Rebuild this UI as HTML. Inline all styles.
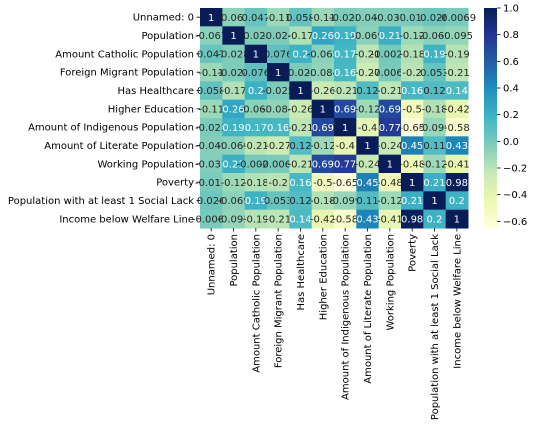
<!DOCTYPE html>
<html><head><meta charset="utf-8"><style>
body{margin:0;background:#fff;}
svg{display:block;font-family:"DejaVu Sans","Liberation Sans",sans-serif;}
</style></head><body>
<svg id="chart" width="533" height="428" viewBox="0 0 533 428"></svg>
<script>
const labels=["Unnamed: 0","Population","Amount Catholic Population","Foreign Migrant Population","Has Healthcare","Higher Education","Amount of Indigenous Population","Amount of Literate Population","Working Population","Poverty","Population with at least 1 Social Lack","Income below Welfare Line"];
const matrix=[
[1,-0.067,0.047,-0.11,0.058,-0.11,-0.022,-0.049,-0.037,-0.013,0.026,-0.0069],
[-0.067,1,-0.028,-0.024,-0.17,0.26,0.19,-0.069,0.21,-0.12,-0.069,-0.095],
[0.047,-0.028,1,0.076,0.2,-0.065,0.17,-0.21,-0.0028,-0.18,0.19,-0.19],
[-0.11,-0.024,0.076,1,-0.025,-0.084,0.16,-0.27,-0.0066,-0.2,0.053,-0.21],
[0.058,-0.17,0.2,-0.025,1,-0.26,-0.21,0.12,-0.21,0.16,0.12,0.14],
[-0.11,0.26,-0.065,-0.084,-0.26,1,0.69,-0.12,0.69,-0.5,-0.18,-0.42],
[-0.022,0.19,0.17,0.16,-0.21,0.69,1,-0.4,0.77,-0.65,-0.099,-0.58],
[-0.049,-0.069,-0.21,-0.27,0.12,-0.12,-0.4,1,-0.24,0.45,0.11,0.43],
[-0.037,0.21,-0.0028,-0.0066,-0.21,0.69,0.77,-0.24,1,-0.48,-0.12,-0.41],
[-0.013,-0.12,-0.18,-0.2,0.16,-0.5,-0.65,0.45,-0.48,1,0.21,0.98],
[0.026,-0.069,0.19,0.053,0.12,-0.18,-0.099,0.11,-0.12,0.21,1,0.2],
[-0.0069,-0.095,-0.19,-0.21,0.14,-0.42,-0.58,0.43,-0.41,0.98,0.2,1]];
const cbTicks=[-0.6,-0.4,-0.2,0.0,0.2,0.4,0.6,0.8,1.0];
const vmin=-0.65, vmax=1;
const stops=["#ffffd9","#edf8b1","#c7e9b4","#7fcdbb","#41b6c4","#1d91c0","#225ea8","#253494","#081d58"];
const NS="http://www.w3.org/2000/svg";
const svg=document.getElementById('chart');
const X0=200,Y0=8,W=268,H=220,n=labels.length,cw=W/n,ch=H/n;
function hex(h){return [1,3,5].map(i=>parseInt(h.substr(i,2),16));}
function cmap(v){let t=Math.max(0,Math.min(1,(v-vmin)/(vmax-vmin)))*(stops.length-1);let i=Math.min(Math.floor(t),stops.length-2),f=t-i;const a=hex(stops[i]),b=hex(stops[i+1]);return a.map((c,k)=>Math.round(c+(b[k]-c)*f));}
function lum(c){const l=c.map(x=>{x/=255;return x<=0.03928?x/12.92:Math.pow((x+0.055)/1.055,2.4);});return 0.2126*l[0]+0.7152*l[1]+0.0722*l[2];}
function mk(tag,attrs,txt){const e=document.createElementNS(NS,tag);for(const k in attrs)e.setAttribute(k,attrs[k]);if(txt!==undefined)e.textContent=txt;svg.appendChild(e);return e;}
function fmt(v){let s=(Math.abs(v)<1e-12)?"0":String(+v.toPrecision(2));return s;}
const xs=i=>X0+i*cw, ys=j=>Y0+j*ch;
for(let r=0;r<n;r++)for(let c=0;c<n;c++){
 const v=matrix[r][c],col=cmap(v);
 const rect=mk('rect',{x:xs(c),y:ys(r),width:cw+0.5,height:ch+0.5,fill:`rgb(${col})`});
 
 
 const t=mk('text',{x:xs(c)+cw/2,y:ys(r)+ch/2+3.6,'text-anchor':'middle','font-size':'10',fill:lum(col)>0.408?'#262626':'#ffffff'},fmt(v));
 
 
}
for(let i=0;i<n;i++){
 mk('line',{x1:X0-3.5,x2:X0,y1:ys(i)+ch/2,y2:ys(i)+ch/2,stroke:'#000','stroke-width':0.8});
 const ly=mk('text',{x:X0-6,y:ys(i)+ch/2+3.5,'text-anchor':'end','font-size':'10',fill:'#000'},labels[i]);
 
 
 const cx=xs(i)+cw/2;
 mk('line',{x1:cx,x2:cx,y1:Y0+H,y2:Y0+H+3.5,stroke:'#000','stroke-width':0.8});
 const lx=mk('text',{x:0,y:0,'text-anchor':'end','font-size':'10',fill:'#000',transform:`translate(${cx+3.5},${Y0+H+6}) rotate(-90)`},labels[i]);
 
 
}
// colorbar
const CX=484,CW=13,CY0=8,CH=220;
const cy=v=>CY0+(vmax-v)/(vmax-vmin)*CH;
const steps=110;
for(let k=0;k<steps;k++){const v1=vmax-(vmax-vmin)*k/steps,v2=vmax-(vmax-vmin)*(k+1)/steps;const col=cmap((v1+v2)/2);
 const s=mk('rect',{x:CX,y:cy(v1),width:CW,height:cy(v2)-cy(v1)+0.6,fill:`rgb(${col})`});
 
 }
cbTicks.forEach(v=>{const y=cy(v);mk('line',{x1:CX+CW,x2:CX+CW+3.5,y1:y,y2:y,stroke:'#000','stroke-width':0.8});
 const t=mk('text',{x:CX+CW+6,y:y+3.5,'font-size':'10',fill:'#000'},(v<0?'\u2212':'')+Math.abs(v).toFixed(1));
 
 });
</script>
</body></html>
